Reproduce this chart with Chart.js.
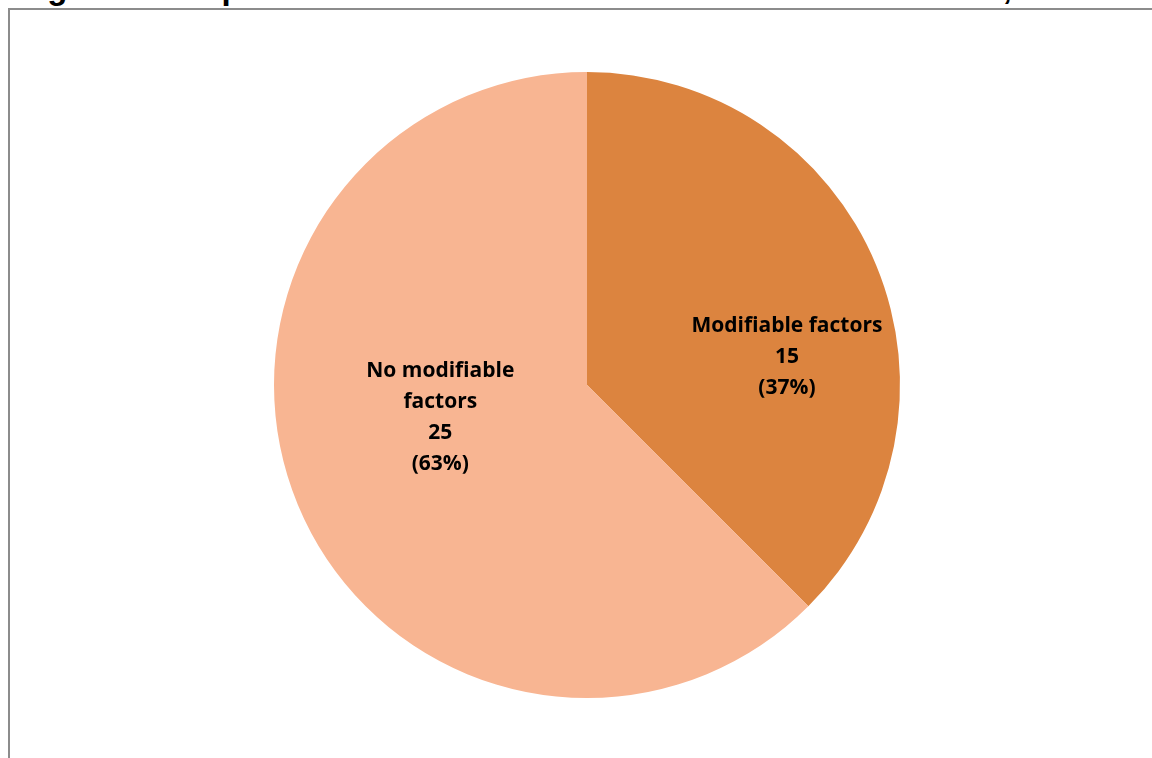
<!DOCTYPE html>
<html>
<head>
<meta charset="utf-8">
<script src="https://cdn.jsdelivr.net/npm/chart.js@4"></script>
<style>
  html, body { margin: 0; padding: 0; background: #fff; overflow: hidden; }
  body { width: 1152px; height: 758px; position: relative; }
  #title {
    position: absolute; left: 18px; top: -29px; white-space: nowrap;
    font: bold 33px "Liberation Sans", Arial, sans-serif; line-height: 33px; color: #000;
  }
  #frame {
    position: absolute; left: 8px; top: 8px; width: 1160px; height: 770px;
    border: 2px solid #8c8c8c; box-sizing: border-box;
  }
  #wrap { position: absolute; left: 0; top: 0; width: 1152px; height: 758px; }
</style>
</head>
<body>
<div id="title">Figure 8: Proportion of reviewed cases with a modifiable factor, Ontario</div>
<div id="frame"></div>
<div id="wrap"><canvas id="pie"></canvas></div>
<script>
const categories = ["Modifiable factors", "No modifiable factors"];
const labelLines = [["Modifiable factors"], ["No modifiable", "factors"]];
const counts = [15, 25];
const percents = ["37%", "63%"];
const colors = ["#dc843f", "#f8b592"];

// where each label sits: angle from top (deg, clockwise) and fraction of radius
const labelSpots = [[82, 0.645], [257.5, 0.48]];

const sliceLabels = {
    id: "sliceLabels",
    afterDatasetsDraw(chart) {
        const c = chart.ctx;
        const arcs = chart.getDatasetMeta(0).data;
        c.save();
        c.font = "bold 21px 'Open Sans', 'Noto Sans', sans-serif";
        c.fillStyle = "#000";
        c.textAlign = "center";
        c.textBaseline = "middle";
        arcs.forEach((arc, i) => {
            const a = labelSpots[i][0] * Math.PI / 180;
            const r = arc.outerRadius * labelSpots[i][1];
            const x = arc.x + r * Math.sin(a);
            const y = arc.y - r * Math.cos(a);
            const lines = labelLines[i].concat([String(counts[i]), "(" + percents[i] + ")"]);
            const lh = 31;
            const y0 = y - (lines.length - 1) * lh / 2;
            lines.forEach((t, k) => c.fillText(t, x, y0 + k * lh));
        });
        c.restore();
    }
};

new Chart(document.getElementById("pie"), {
    type: "pie",
    data: {
        labels: categories,
        datasets: [{
            data: counts,
            backgroundColor: colors,
            borderWidth: 0,
        }],
    },
    options: {
        responsive: true,
        maintainAspectRatio: false,
        animation: false,
        layout: { padding: { left: 22, right: 0, top: 72, bottom: 60 } },
        plugins: {
            legend: { display: false },
            tooltip: { enabled: false },
        },
    },
    plugins: [sliceLabels],
});
</script>
</body>
</html>
